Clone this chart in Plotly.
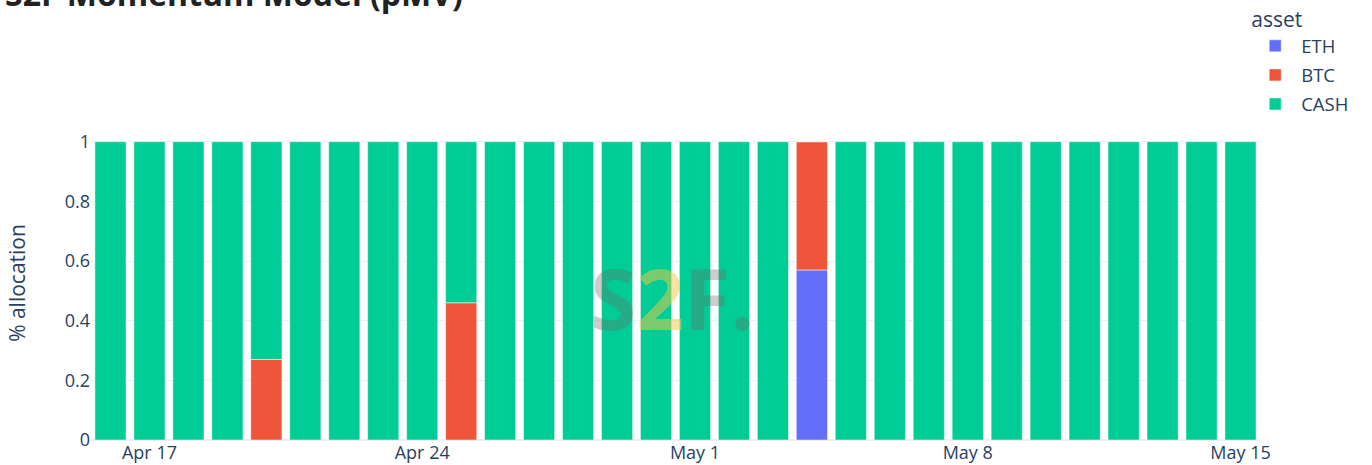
import plotly.graph_objects as go
import pandas as pd

dates = pd.date_range("2022-04-16", "2022-05-15", freq="D").strftime("%Y-%m-%d").tolist()

# allocations per day (ETH, BTC, CASH)
eth = [0.0] * len(dates)
btc = [0.0] * len(dates)
cash = [1.0] * len(dates)

btc[dates.index("2022-04-20")] = 0.27
cash[dates.index("2022-04-20")] = 0.73
btc[dates.index("2022-04-25")] = 0.46
cash[dates.index("2022-04-25")] = 0.54
eth[dates.index("2022-05-04")] = 0.57
btc[dates.index("2022-05-04")] = 0.43
cash[dates.index("2022-05-04")] = 0.0

assets = ["ETH", "BTC", "CASH"]
series = {"ETH": eth, "BTC": btc, "CASH": cash}
colors = {"ETH": "#636EFA", "BTC": "#EF553B", "CASH": "#00CC96"}

tick_vals = ["2022-04-17", "2022-04-24", "2022-05-01", "2022-05-08", "2022-05-15"]
tick_text = ["Apr 17", "Apr 24", "May 1", "May 8", "May 15"]
y_ticks = [0, 0.2, 0.4, 0.6, 0.8, 1]
y_labels = ["0", "0.2", "0.4", "0.6", "0.8", "1"]

fig = go.Figure()
for a in assets:
    fig.add_trace(go.Bar(x=dates, y=series[a], name=a, marker_color=colors[a],
                         marker_line_color="white", marker_line_width=0.5,
                         legendgroup=a))

fig.update_layout(
    template="plotly_white",
    width=1372, height=465,
    barmode="relative",
    font=dict(family="Open Sans, sans-serif", size=18, color="#2a3f5f"),
    margin=dict(l=91, r=112, t=126, b=25, autoexpand=False),
    legend=dict(title=dict(text="asset", font=dict(size=21)), xref="container", yref="container",
                x=0.9105, xanchor="left", y=1.0055, yanchor="top",
                font=dict(size=18.5), tracegroupgap=2, itemwidth=42),
    xaxis=dict(tickvals=tick_vals, ticktext=tick_text, showgrid=False, automargin=False),
    yaxis=dict(title=dict(text="% allocation", font=dict(size=21), standoff=33),
               range=[0, 1.0526], tickvals=y_ticks, ticktext=y_labels, automargin=False),
    annotations=[
        dict(text="<b>S2F Momentum Model (pMV)</b>", xref="paper", yref="paper",
             x=(3 - 91) / 1169, xanchor="left", y=(440 - 17) / 314, yanchor="bottom",
             showarrow=False, font=dict(family="Open Sans, sans-serif", size=32, color="#222222")),
        dict(
            text="<span style='color:rgba(110,110,110,0.35)'>S</span>"
                 "<span style='color:rgba(245,200,70,0.5)'>2</span>"
                 "<span style='color:rgba(110,110,110,0.35)'>F.</span>",
            xref="paper", yref="paper", x=(672 - 91) / 1169, y=(440 - 297) / 314,
            showarrow=False, font=dict(family="Open Sans, sans-serif", size=84, weight="bold"),
        ),
    ],
)

fig.write_html("out.html", config={"displayModeBar": False},
               post_script="document.body.style.margin='0px';")
